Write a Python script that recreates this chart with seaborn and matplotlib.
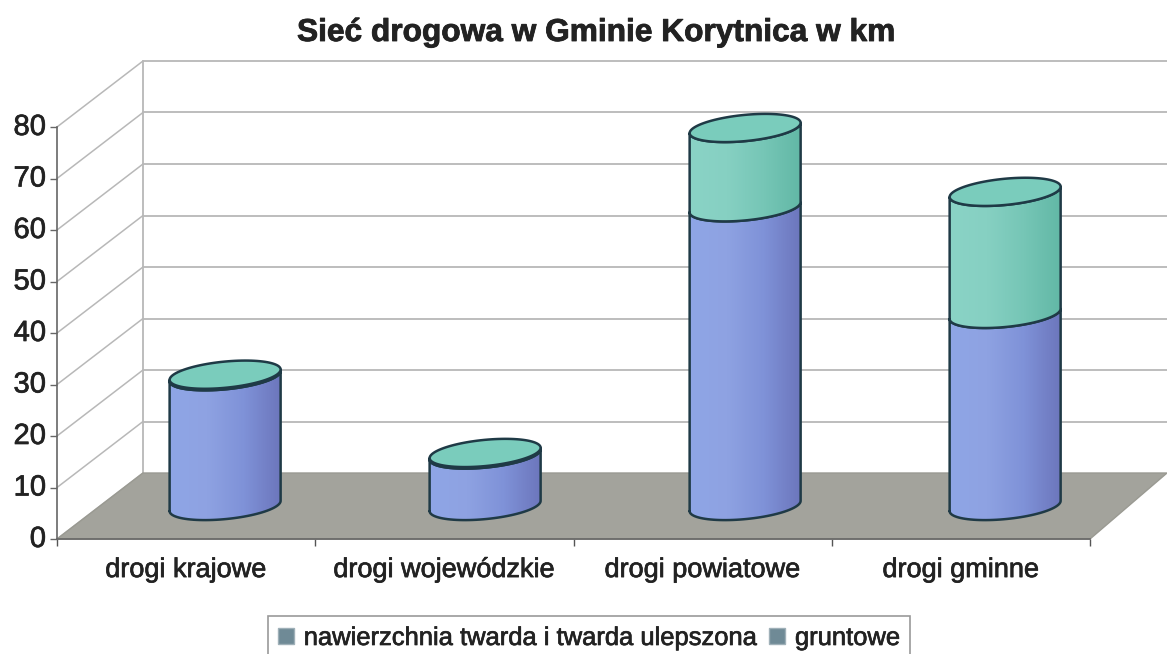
import numpy as np
import pandas as pd
import seaborn as sns
import matplotlib.pyplot as plt
import matplotlib.patheffects as pe
from matplotlib.colors import LinearSegmentedColormap
from matplotlib.patches import Patch, Polygon

# values (km)
kategorie = ["drogi krajowe", "drogi wojewódzkie", "drogi powiatowe", "drogi gminne"]
twarda = [25.2, 10.0, 58.0, 37.3]
gruntowe = [0.3, 0.3, 15.4, 23.7]
y_ticks = [0, 10, 20, 30, 40, 50, 60, 70, 80]
seria = ["nawierzchnia twarda i twarda ulepszona", "gruntowe"]

df = pd.DataFrame({"kategoria": kategorie, "twarda": twarda, "gruntowe": gruntowe})

sns.set_style("white")
plt.rcParams["font.family"] = ["Liberation Sans", "DejaVu Sans"]

W, H = 1167, 654
fig = plt.figure(figsize=(W / 100, H / 100), dpi=100)
ax = fig.add_axes([57 / W, (H - 539) / H, 1033 / W, 412 / H])

bar_w = 111 / 258.25
sns.barplot(data=df, x="kategoria", y="twarda", color="#8093d8", width=bar_w, ax=ax)
sns.barplot(data=df, x="kategoria", y="gruntowe", bottom=df["twarda"], color="#6fc4b4", width=bar_w, ax=ax)
bars = list(ax.patches)
ax.set_xlim(-0.5, 3.5)
ax.set_ylim(0, 80)

# depth of the fake 3d box in data units
dx = 86 / 258.25
dy = 66 / 5.15
right_end = 3.5 + 77 / 258.25
grid_c = "#b8b8b8"

# floor and walls
ax.add_patch(Polygon([(-0.5, 0), (-0.5 + dx, dy), (right_end, dy), (3.5, 0)], closed=True,
                     fc="#a3a39c", ec="#9a9a92", lw=1, clip_on=False, zorder=1))
for v in y_ticks:
    ax.plot([-0.5, -0.5 + dx], [v, v + dy], color=grid_c, lw=1.1, clip_on=False, zorder=0.5)
    if v > 0:
        ax.plot([-0.5 + dx, right_end], [v + dy, v + dy], color=grid_c, lw=1.3, clip_on=False, zorder=0.5)
ax.plot([-0.5 + dx, -0.5 + dx], [dy, 80 + dy], color=grid_c, lw=1.3, clip_on=False, zorder=0.5)

# the seaborn bars give the geometry, the cylinders are drawn over them
shift_x = 0.151
spread = 1.0068
shift_y = 33 / 5.15
tilt = 1.0
rx = bar_w / 2
ry = 2.55
outline = "#1f3a46"
t_front = np.linspace(np.pi, 2 * np.pi, 50)
t_all = np.linspace(0, 2 * np.pi, 100)

cm_blue = LinearSegmentedColormap.from_list("b", ["#8fa6e6", "#8ea2e2", "#7f92d8", "#6c76bc"])
cm_teal = LinearSegmentedColormap.from_list("t", ["#8ad3c6", "#86d0c2", "#76c6b6", "#62b8a6"])


def ring(cx, cy, t):
    return cx + rx * np.cos(t), cy + tilt * np.cos(t) + ry * np.sin(t)


n = len(kategorie)
for i, bar in enumerate(bars):
    bar.set_facecolor("none")
    bar.set_linewidth(0)
    cx = (bar.get_x() + bar.get_width() / 2) * spread + shift_x
    y0 = bar.get_y() + shift_y
    y1 = y0 + bar.get_height()
    cmap = cm_blue if i < n else cm_teal
    z = 3 + i / 10

    bx, by = ring(cx, y0, t_front)
    tx, ty = ring(cx, y1, t_front)
    shape = Polygon(np.r_[np.c_[bx, by], np.c_[tx, ty][::-1]], closed=True, fc="none", ec="none",
                    transform=ax.transData)
    ax.add_patch(shape)
    grad = np.linspace(0, 1, 128).reshape(1, -1)
    im = ax.imshow(grad, cmap=cmap, aspect="auto", extent=(cx - rx, cx + rx, y0 - 5, y1 + 5), zorder=z)
    im.set_clip_path(shape)
    ax.plot(np.r_[bx, tx[::-1], bx[0]], np.r_[by, ty[::-1], by[0]], color=outline, lw=1.8,
            clip_on=False, zorder=z + 0.01)

    # top lid only on the upper segment
    if i >= n:
        lx, ly = ring(cx, y1, t_all)
        ax.fill(lx, ly, fc="#7accbc", ec=outline, lw=1.8, clip_on=False, zorder=z + 0.02)

ax.set_xlim(-0.5, 3.5)
ax.set_ylim(0, 80)

# axes
for s in ["top", "right"]:
    ax.spines[s].set_visible(False)
for s in ["left", "bottom"]:
    ax.spines[s].set_color("#666666")
    ax.spines[s].set_linewidth(1.2)
    ax.spines[s].set_zorder(2)
ax.set_yticks(y_ticks)
ax.tick_params(axis="y", labelsize=21, length=5, width=1, color="#666666", labelcolor="#222222", left=True, pad=3)
ax.set_xticks(np.arange(-0.5, 4), minor=True)
ax.tick_params(axis="x", which="minor", length=5, width=1, color="#555555", bottom=True)
ax.tick_params(axis="x", which="major", labelsize=19.5, length=0, labelcolor="#222222", pad=13)
ax.set_xlabel("")
ax.set_ylabel("")
ax.patch.set_alpha(0)

# scanned text looks heavier than a clean render
heavy = [pe.withStroke(linewidth=0.5, foreground="#222222")]
for lab in ax.get_xticklabels() + ax.get_yticklabels():
    lab.set_path_effects(heavy)
for lab in ax.get_yticklabels():
    lab.set_verticalalignment("center")

fig.text(596 / W, 1 - 33 / H, "Sieć drogowa w Gminie Korytnica w km", ha="center", va="center",
         fontsize=22.8, fontweight="bold", color="#222222",
         path_effects=[pe.withStroke(linewidth=0.6, foreground="#222222")])

handles = [Patch(fc="#6f8a96", ec="#9fb0b8", label=seria[0]), Patch(fc="#6f8a96", ec="#9fb0b8", label=seria[1])]
leg = fig.legend(handles=handles, loc="center", bbox_to_anchor=(589 / W, 1 - 638 / H), ncol=2, fontsize=18.4,
                 frameon=True, fancybox=False, edgecolor="#9a9a9a", framealpha=1, handlelength=0.6,
                 handleheight=0.6, handletextpad=0.4, columnspacing=0.5, borderpad=0.4, labelcolor="#222222")
leg.get_frame().set_linewidth(1.2)
for t in leg.get_texts():
    t.set_path_effects(heavy)

fig.savefig("out.png", dpi=100)
